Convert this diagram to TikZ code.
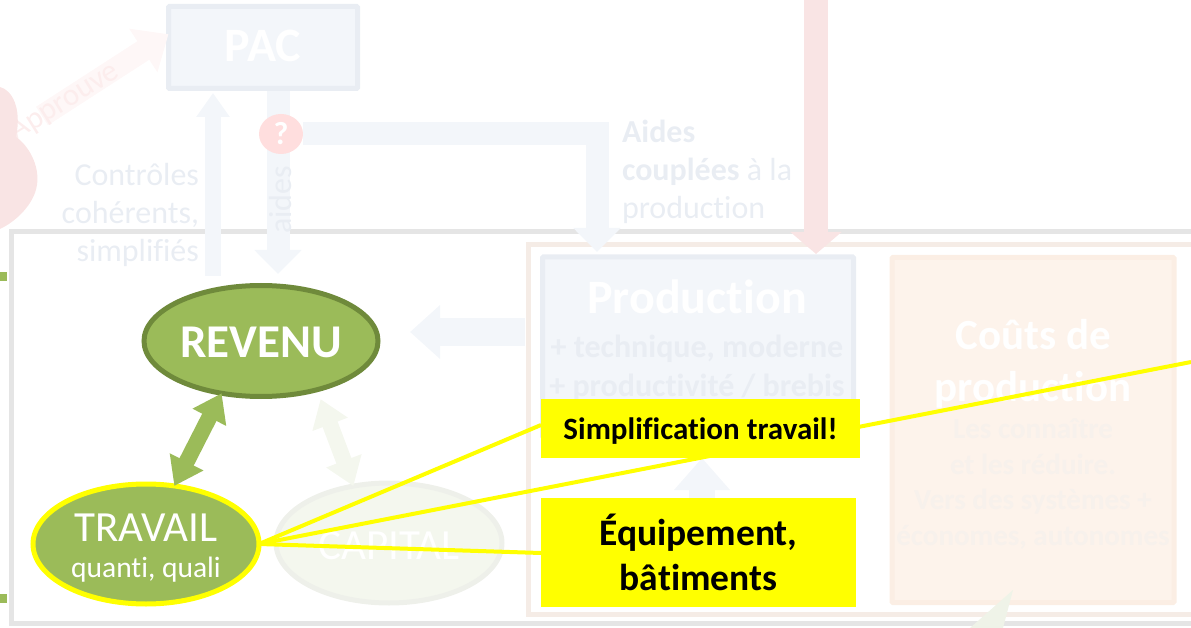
\documentclass[tikz,border=0pt]{standalone}
\usepackage{fontspec}
\setmainfont{Carlito}[Ligatures=NoCommon]
\usetikzlibrary{arrows.meta,shapes.geometric}

\definecolor{palebleu}{HTML}{F3F6FA}
\definecolor{bordbleu}{HTML}{E9EDF3}
\definecolor{paleorange}{HTML}{FDF3EB}
\definecolor{bordorange}{HTML}{FBEEE4}
\definecolor{cadreorange}{HTML}{F5ECE6}
\definecolor{texteorange}{HTML}{F7F1EC}
\definecolor{palerouge}{HTML}{F9E4E4}
\definecolor{rosepale}{HTML}{FEF7F7}
\definecolor{rosetexte}{HTML}{FCEDED}
\definecolor{vert}{HTML}{9BBB59}
\definecolor{vertfonce}{HTML}{6F8A3B}
\definecolor{palevert}{HTML}{F4F7EE}
\definecolor{bordvert}{HTML}{EEF0EA}
\definecolor{pointevert}{HTML}{EFF3E8}
\definecolor{jaunevif}{HTML}{FFFF00}

\tikzset{
	fat/.style={line width=#1,line cap=butt},
	txt/.style={inner sep=0,outer sep=0,align=center},
	boite/.style={draw=bordbleu,fill=palebleu,line width=5pt,outer sep=0,rounded corners=1pt},
	rond/.style={ellipse,inner sep=0,outer sep=0,line width=5pt},
	jaune/.style={fill=jaunevif,inner sep=0,outer sep=0,align=center,text=black},
	ligne/.style={draw=jaunevif,line width=4pt}
}
\newcommand{\taille}[2]{\fontsize{#1}{#2}\selectfont}

\begin{document}
\begin{tikzpicture}[x=1pt,y=-1pt]

	\useasboundingbox (0,0) rectangle (1191,628);
	\clip (0,0) rectangle (1191,628);

	\draw [line width=5pt,draw=black!10] (11.5,232) rectangle (1220,623.5);
	\draw [line width=5pt,draw=cadreorange] (528.5,245) rectangle (1220,614);

	\node [boite,minimum width=189pt,minimum height=82pt] (pac) at (263,47.5) {};
	\node [txt,text=white,font=\bfseries\taille{48}{56}] (pactxt) at (263,46) {PAC};

	\node [boite,minimum width=311pt,minimum height=180pt] (prod) at (698,347) {};
	\node [txt,text=white,font=\bfseries\taille{48}{56}] (prodtxt) at (697,297) {Production};
	\node [txt,text=bordbleu,font=\bfseries\taille{32}{39}] (prodsub) at (697,368) {+ technique, moderne\\+ productivité / brebis};

	\node [boite,draw=bordorange,fill=paleorange,minimum width=282pt,minimum height=345pt] (couts) at (1033,430) {};
	\node [txt,text=white,font=\bfseries\taille{43}{52}] (coutstxt) at (1033,364) {Coûts de\\production};
	\node [txt,text=texteorange,font=\bfseries\taille{29}{35.5}] (coutssub) at (1033,484) {Les connaître\\et les réduire.\\Vers des systèmes +\\économes, autonomes};

	% fleches pales
	\coordinate (approuvepied) at (42,116);
	\draw [fat=22pt,draw=rosepale,-{Triangle[width=50pt,length=30pt]}] (approuvepied) -- (pac.172);
	\node [txt,text=rosetexte,rotate=32,font=\taille{31}{36}] (approuve) at (65,102) {Approuve};
	\fill [palerouge] (0,87) .. controls (12,90) and (22,108) .. (16,137)
		.. controls (28,145) and (40,165) .. (37,185)
		.. controls (34,205) and (15,222) .. (0,229) -- cycle;

	\coordinate (controlepied) at (213,276);
	\draw [fat=16pt,draw=palebleu,-{Triangle[width=32pt,length=24pt]}] (controlepied) -- (213,93);
	\node [txt,text=bordbleu,font=\taille{32}{38},anchor=east,align=right] (controle) at (199,215) {Contrôles\\cohérents,\\simplifiés};

	\coordinate (aidebas) at (278,274);
	\draw [fat=23pt,draw=palebleu,-{Triangle[width=46pt,length=24pt]}] (278,91) -- (aidebas);
	\node [txt,text=bordbleu,rotate=90,font=\taille{32}{36}] (aides) at (281,200) {aides};

	\node [ellipse,fill=red!13,inner sep=0,minimum width=44pt,minimum height=40pt] (question) at (281,134) {};
	\node [txt,text=white,font=\bfseries\taille{32}{36}] (questiontxt) at (281,134) {?};
	\coordinate (coupletip) at (597,252);
	\draw [fat=23pt,draw=palebleu,-{Triangle[width=46pt,length=24pt]}] (question.east) -| (coupletip);
	\node [txt,text=bordbleu,font=\taille{32}{38},anchor=west,align=left] (couple) at (622,172) {\textbf{Aides}\\\textbf{couplées} à la\\production};

	\draw [fat=24pt,draw=palerouge,-{Triangle[width=50pt,length=22pt]}] (816,0) -- (816,254);
	\coordinate (prodfleche) at (525,332);
	\draw [fat=28pt,draw=palebleu,-{Triangle[width=52pt,length=30pt]}] (prodfleche) -- (410,332);
	\draw [fat=26pt,draw=palebleu,-{Triangle[width=54pt,length=32pt]}] (702,500) -- (702,458);
	\fill [pointevert] (1013,590) -- (1003,628) -- (970,628) -- cycle;

	\node [rond,draw=bordvert,fill=palevert,minimum width=226pt,minimum height=120pt] (capital) at (389,543) {};
	\node [txt,text=white,font=\taille{43}{48}] (capitaltxt) at (389,546) {CAPITAL};

	\node [rond,draw=vertfonce,fill=vert,minimum width=234pt,minimum height=111pt] (revenu) at (261,341) {};
	\node [txt,text=white,font=\bfseries\taille{47}{54}] (revenutxt) at (261,342) {REVENU};

	\node [rond,draw=jaunevif,fill=vert,minimum width=226pt,minimum height=120pt] (travail) at (146,544) {};
	\node [txt,text=white,font=\taille{43}{50}] (travailtxt) at (146,528) {TRAVAIL};
	\node [txt,text=white,font=\taille{29.5}{36}] (qualitxt) at (146,570) {quanti, quali};

	\draw [fat=16pt,draw=vert,{Triangle[width=36pt,length=27pt]}-{Triangle[width=36pt,length=27pt]}] (revenu.233) -- (travail.64);
	\draw [fat=16pt,draw=palevert,{Triangle[width=36pt,length=27pt]}-{Triangle[width=36pt,length=27pt]},shorten <=10pt] (revenu.319) -- (capital.122);

	% les bords a gauche
	\coordinate (vertA) at (0,276.5);
	\coordinate (vertB) at (7,276.5);
	\coordinate (vertC) at (0,598.5);
	\coordinate (vertD) at (7,598.5);
	\draw [fat=9pt,draw=vert] (vertA) -- (vertB);
	\draw [fat=9pt,draw=vert] (vertC) -- (vertD);

	% les lignes jaunes
	\coordinate (bordligne) at (1191,362);
	\coordinate (simplifbord) at (541,425);
	\coordinate (equipbord) at (541,553);
	\draw [ligne] (travail.east) -- (simplifbord);
	\draw [ligne] (travail.east) -- (bordligne);
	\draw [ligne] (travail.east) -- (equipbord);
	\node [jaune,minimum width=319pt,minimum height=59pt,font=\bfseries\taille{31}{36}] (simplif) at (700.5,428) {\rule{0pt}{27pt}Simplification travail!};
	\node [jaune,minimum width=315pt,minimum height=109pt,font=\bfseries\taille{37.5}{45}] (equip) at (698.5,552.5) {Équipement,\\bâtiments};

\end{tikzpicture}
\end{document}
